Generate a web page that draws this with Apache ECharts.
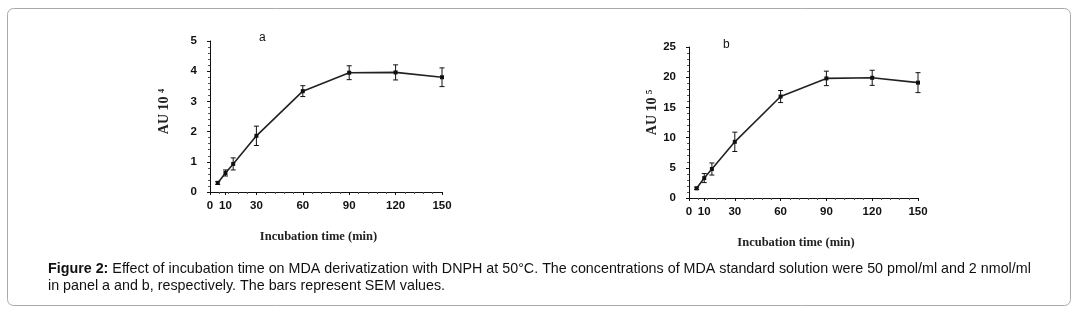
<!DOCTYPE html>
<html>
<head>
<meta charset="utf-8">
<title>Figure 2</title>
<script src="https://cdn.jsdelivr.net/npm/echarts@6/dist/echarts.min.js"></script>
<style>
html,body{margin:0;padding:0;background:#fff;}
#main{width:1079px;height:316px;}
</style>
</head>
<body>
<div id="main"></div>
<script type="text/javascript">
// incubation times (min)
var times = [5, 10, 15, 30, 60, 90, 120, 150];
// panel a (AU 10^4) and SEM
var valA = [0.3, 0.63, 0.93, 1.86, 3.34, 3.95, 3.96, 3.8];
var semA = [0.05, 0.1, 0.2, 0.32, 0.18, 0.23, 0.25, 0.31];
// panel b (AU 10^5) and SEM
var valB = [1.6, 3.3, 4.8, 9.3, 16.8, 19.8, 19.9, 19.1];
var semB = [0.2, 0.75, 1.0, 1.6, 1.0, 1.2, 1.25, 1.65];
// tick labels
var xTicks = [0, 10, 30, 60, 90, 120, 150];
var yTicksA = [0, 1, 2, 3, 4, 5];
var yTicksB = [0, 5, 10, 15, 20, 25];

var caption1 = 'Effect of incubation time on MDA derivatization with DNPH at 50°C. The concentrations of MDA standard solution were 50 pmol/ml and 2 nmol/ml';
var caption2 = 'in panel a and b, respectively. The bars represent SEM values.';

var myChart = echarts.init(document.getElementById('main'));

function pairs(xs, ys){
	return xs.map(function(x, i){ return [x, ys[i]]; });
}
function errData(xs, ys, es){
	return xs.map(function(x, i){ return [x, ys[i] - es[i], ys[i] + es[i]]; });
}
// 误差线
function renderErr(params, api){
	var lo = api.coord([api.value(0), api.value(1)]);
	var hi = api.coord([api.value(0), api.value(2)]);
	var w = 2.5;
	var st = {stroke: '#111', lineWidth: 1};
	return {
		type: 'group',
		children: [
			{type: 'line', shape: {x1: lo[0], y1: lo[1], x2: hi[0], y2: hi[1]}, style: st},
			{type: 'line', shape: {x1: lo[0]-w, y1: lo[1], x2: lo[0]+w, y2: lo[1]}, style: st},
			{type: 'line', shape: {x1: hi[0]-w, y1: hi[1], x2: hi[0]+w, y2: hi[1]}, style: st}
		]
	};
}

var tickFont = {color: '#111', fontSize: 11.5, fontWeight: 'bold', fontFamily: 'Liberation Sans, Arial, sans-serif'};
var serif = 'Liberation Serif, Times New Roman, serif';

function xAxisOf(idx){
	return {
		type: 'value', gridIndex: idx, min: 0, max: 150,
		name: 'Incubation time (min)', nameLocation: 'middle', nameGap: 38,
		nameTextStyle: {color: '#222', fontSize: 12.5, fontWeight: 'bold', fontFamily: serif, padding: [0, 15, 0, 0]},
		axisLine: {onZero: false, lineStyle: {color: '#111', width: 1}},
		axisTick: {show: true, length: 3, customValues: xTicks, lineStyle: {color: '#111'}},
		minorTick: {show: true, splitNumber: 5, length: 2, lineStyle: {color: '#555'}},
		axisLabel: Object.assign({customValues: xTicks, margin: 8}, tickFont),
		splitLine: {show: false}
	};
}
function yAxisOf(idx, max, step, ticks, name, gap, shift){
	return {
		type: 'value', gridIndex: idx, min: 0, max: max, interval: step,
		name: name, nameLocation: 'middle', nameGap: gap, nameRotate: 90,
		nameTextStyle: {color: '#222', fontSize: 14, fontWeight: 'bold', fontFamily: serif, padding: [0, 0, 0, shift]},
		axisLine: {show: true, lineStyle: {color: '#111', width: 1}},
		axisTick: {show: true, length: 3, lineStyle: {color: '#111'}},
		minorTick: {show: true, splitNumber: 5, length: 2, lineStyle: {color: '#555'}},
		axisLabel: Object.assign({margin: 13, customValues: ticks}, tickFont),
		splitLine: {show: false}
	};
}
function lineOf(idx, data){
	return {
		type: 'line', xAxisIndex: idx, yAxisIndex: idx, data: data,
		symbol: 'rect', symbolSize: 4, z: 3,
		lineStyle: {color: '#222', width: 1.6},
		itemStyle: {color: '#111'},
		animation: false
	};
}
function errOf(idx, data){
	return {
		type: 'custom', xAxisIndex: idx, yAxisIndex: idx, data: data,
		renderItem: renderErr, z: 4, animation: false,
		encode: {x: 0, y: [1, 2]}
	};
}

var option = {
	backgroundColor: '#fff',
	animation: false,
	grid: [
		{left: 210, top: 41, width: 232, height: 151},
		{left: 689, top: 47, width: 229, height: 151}
	],
	xAxis: [xAxisOf(0), xAxisOf(1)],
	yAxis: [
		yAxisOf(0, 5, 1, yTicksA, 'AU 10 \u2074', 39, 10),
		yAxisOf(1, 25, 5, yTicksB, 'AU 10 \u2075', 29, 20)
	],
	series: [
		lineOf(0, pairs(times, valA)),
		errOf(0, errData(times, valA, semA)),
		lineOf(1, pairs(times, valB)),
		errOf(1, errData(times, valB, semB))
	],
	graphic: [
		{
			type: 'rect', shape: {x: 7.5, y: 8.5, width: 1063, height: 297, r: 6},
			style: {fill: 'none', stroke: '#aaa', lineWidth: 1}, z: -1
		},
		{type: 'text', left: 259, top: 32, style: {text: 'a', font: '12px Liberation Sans, Arial', fill: '#111'}},
		{type: 'text', left: 723, top: 39, style: {text: 'b', font: '12px Liberation Sans, Arial', fill: '#111'}},
		{
			type: 'text', left: 48, top: 261,
			style: {
				text: '{b|Figure 2:} ' + caption1 + '\n' + caption2,
				font: '14.3px Liberation Sans, Arial, sans-serif', fill: '#111', lineHeight: 17,
				rich: {b: {fontWeight: 'bold', fontSize: 14.3, fontFamily: 'Liberation Sans, Arial, sans-serif', fill: '#111'}}
			}
		}
	]
};
myChart.setOption(option);
</script>
</body>
</html>
